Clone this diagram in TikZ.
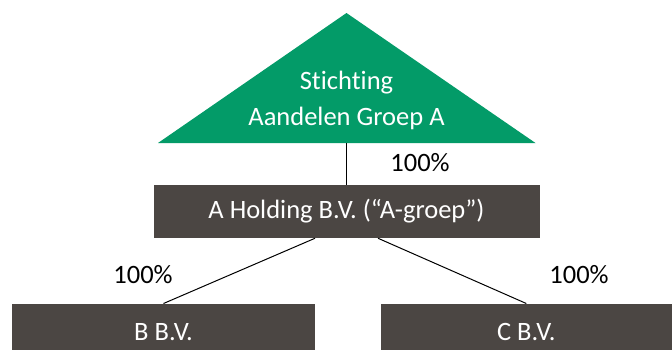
\documentclass[tikz,border=0pt]{standalone}
\usepackage{fontspec}
\setmainfont{Carlito}[Ligatures={TeX,NoCommon}]
\usepackage{tikz}

\definecolor{stgreen}{HTML}{039B68}
\definecolor{boxgrey}{HTML}{4B4643}

\tikzset{
    entity/.style={fill=boxgrey, text=white, minimum height=56pt, inner sep=0pt, font=\fontsize{26.5}{30}\selectfont},
    pct/.style={font=\fontsize{26.5}{30}\selectfont},
}

\begin{document}
\begin{tikzpicture}[x=1pt, y=-1pt, line width=1pt]
        \useasboundingbox (0, 0) rectangle (672, 349);

        \fill[stgreen] (346.5, 13) -- (535.5, 143) -- (158, 143) -- cycle;
        \coordinate (T) at (346.5, 143);
        \node[text=white, align=center, font=\fontsize{26.5}{36}\selectfont] (S) at (346.5, 100) {Stichting\\Aandelen Groep A};

        \node[entity, minimum width=386pt, minimum height=52.7pt] (H) at (346.5, 211.4) {A Holding B.V. (``A-groep'')};
        \node[entity, minimum width=303pt] (B) at (163.5, 332) {B B.V.};
        \node[entity, minimum width=291.4pt] (C) at (526.3, 332) {C B.V.};

        \draw (T) -- (H.north);
        \draw ([xshift=-31.5pt]H.south) -- (B.north);
        \draw ([xshift=31.5pt]H.south) -- (C.north);

        \node[pct] (P1) at (420, 163) {100\%};
        \node[pct] (P2) at (143, 275) {100\%};
        \node[pct] (P3) at (579, 275) {100\%};
    \end{tikzpicture}
\end{document}
